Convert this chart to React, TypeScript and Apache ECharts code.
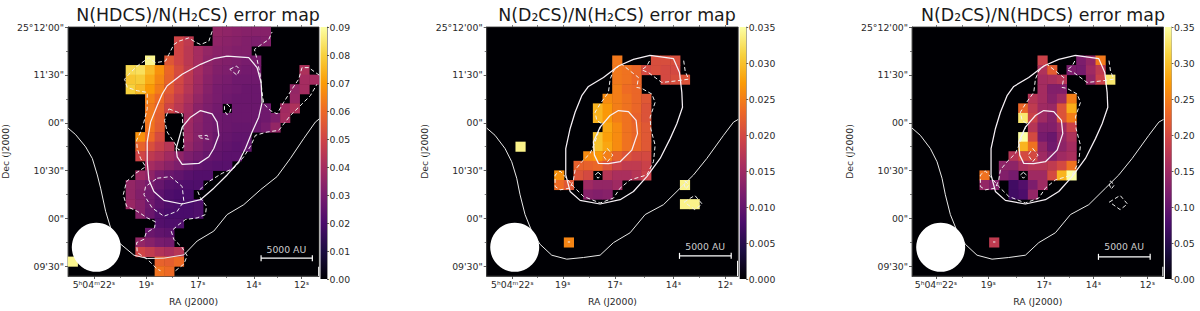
import React, { useEffect, useRef } from "react";
import * as echarts from "echarts";

type Pt = [number, number];

// Colour scale (inferno)
const infernoStops = ["#000004", "#1b0c41", "#4a0c6b", "#781c6d", "#a52c60", "#cf4446", "#ed6925", "#fb9b06", "#f7d13d", "#fcffa4"];

// Each row: [row, firstColumn, ...values]; null is an empty cell
const hdcsH2csRows: (number | null)[][] = [
  [0, 15, .036, .035, .034, .033, .033, .033],
  [1, 11, .05, .046],
  [1, 15, .035, .034, .033, .032, .031, .032],
  [2, 11, .05, .045, .04, .036, .034, .033, .032, .032],
  [3, 8, .088],
  [3, 10, .055, .05, .045, .04, .035, .033, .032, .031, .03, .03],
  [4, 6, .082, .083, .076, .068, .059, .052, .046, .04, .035, .032, .031, .03, .029, .029],
  [4, 24, .042],
  [5, 6, .078, .079, .073, .066, .058, .051, .045, .039, .034, .031, .03, .028, .028, .028],
  [5, 24, .04, .04],
  [6, 6, .08, .076, .07, .064, .056, .05, .044, .038, .033, .03, .029, .028, .027, .027],
  [6, 23, .036, .04],
  [7, 8, .065, .06, .053, .047, .042, .036, .032, .03, .028, .027, .027, .027],
  [7, 23, .037],
  [8, 8, .063, .058, .05, .045, .04, .034, .031, .029, null, .027, .027, .027, .028],
  [8, 22, .039, .042],
  [9, 8, .063, .057, null, null, .039, .034, .03, .028, .027, .027, .027, .027, .028, .031, .04],
  [10, 8, .062, .056, null, null, .038, .033, .03, .028, .027, .026, .026, .027, .03, .036],
  [11, 7, .068, .06, .052, null, null, .038, .033, .03, .027, .026, .025, .025],
  [12, 7, .058, .053, .048, .044, null, .036, .032, .029, .026, .025, .024, .025],
  [13, 7, .05, .046, .043, .039, .035, .031, .029, .026, .025, .024, .024],
  [14, 8, .04, .037, .034, .031, .028, .025, .024, .023, .023],
  [15, 7, .038, .035, .03, .027, .025, .023, .022, .022],
  [16, 6, .036, .033, .03, .026, .023, .022, .021, .021],
  [17, 6, .036, .032, .028, .024, .021, .02, .02],
  [18, 6, .037, .033, .028, .024, .021, .02, .02, .021],
  [19, 7, .033, .027, .022, .02, .02, .02, .021],
  [20, 9, .022, .021, .021],
  [21, 8, .027, .025, .024],
  [22, 7, .036, .033, .03, .029],
  [23, 7, .05, .047, .043, .041, .044],
  [24, 0, .088],
  [24, 9, .058, .057, .06],
  [25, 9, .062, .06],
];

const d2csH2csRows: (number | null)[][] = [
  [3, 13, .0245],
  [3, 17, .0205, .0205, .0205],
  [4, 13, .0245, .024, .023],
  [4, 16, .02, .0205, .02, .02],
  [5, 13, .0245, .024, .023],
  [5, 18, .02, .0205, .021],
  [6, 13, .025, .0235, .023],
  [7, 12, .026, .025, .024, .023, .0215],
  [8, 11, .029, .027, .025, .024, .023, .021],
  [9, 11, .029, .027, .025, .024, .0225, .021],
  [10, 12, .028, .026, .024, .023, .0215],
  [11, 11, .03, .0275, .026, .024, .023, .0215],
  [12, 3, .034],
  [12, 11, .03, .028, .026, .024, .023, .0215],
  [13, 10, .026, .027, .025, .0225, .021, .02, .02],
  [14, 9, .0225, .0225, .023, .021, .019, .018, .018, .019],
  [15, 7, .0265],
  [15, 9, .021, .02, null, .017, .016, .016, .017, .019],
  [16, 7, .0235, .0215],
  [16, 10, .015, .014, .014, .015],
  [16, 20, .034],
  [17, 10, .013, .0125, .013],
  [18, 20, .034, .034],
  [22, 8, .0255],
];

const d2csHdcsRows: (number | null)[][] = [
  [3, 13, .19],
  [3, 17, .12, .14, .245],
  [4, 13, .165, .22],
  [4, 16, .12, .115, .15, .18],
  [5, 13, .155, .16, .17],
  [5, 18, .14, .19, .33],
  [6, 13, .155, .125, .125],
  [7, 12, .17, .155, .13, .15, .25],
  [8, 11, .23, .18, .15, .145, .21, .285],
  [9, 11, .33, .19, .15, .13, .21, .25],
  [10, 12, .17, .125, .125, .15, .19],
  [11, 11, .35, .2, .115, .105, .14, .165],
  [12, 11, .29, .24, .14, .11, .135, .155],
  [13, 10, .17, .2, .2, .15, .13, .15, .16],
  [14, 9, .135, .135, .16, .17, .17, .18, .2, .24],
  [15, 7, .24],
  [15, 9, .125, .115, null, .15, .15, .2, .29, .35],
  [16, 7, .14, .125],
  [16, 10, .07, .085, .12, .15],
  [17, 10, .07, .08, .14],
  [22, 8, .18],
];

// Contours of panel 1, in the axis units of that panel
const p1Solid: Pt[][] = [
  [[202,388],[225,408],[255,445],[275,480],[290,530],[300,570],[315,640],[330,690],[355,735],[400,773],[440,783],[490,782],[550,772],[590,730],[640,700],[680,650],[730,620],[780,575],[830,535],[870,480],[910,420],[945,370],[957,360]],
  [[680,170],[745,175],[770,205],[782,250],[785,310],[775,355],[755,400],[735,450],[715,490],[680,530],[640,570],[600,605],[545,618],[490,607],[460,580],[445,545],[440,490],[440,430],[450,370],[470,320],[485,285],[500,260],[545,225],[600,195],[640,178],[680,170]],
  [[600,335],[635,345],[650,370],[655,410],[640,450],[625,475],[595,495],[545,498],[530,475],[527,450],[545,385],[570,355],[600,335]],
];
const p1Dashed: Pt[][] = [
  [[635,95],[625,125],[600,135],[585,128],[565,115],[535,125],[520,135],[505,165],[495,185],[465,190],[445,175],[410,200],[385,225],[372,240],[380,265],[410,275],[440,280],[440,330],[430,370],[420,400],[408,425],[410,450],[420,480],[435,505],[405,525],[378,550],[368,590],[378,625],[410,640],[440,660],[465,672],[462,690],[437,705],[430,725],[408,735],[410,765],[440,785],[470,815],[480,820]],
  [[525,820],[550,800],[560,775],[545,750],[520,725],[512,700],[535,680],[555,665],[590,660],[615,650],[618,625],[600,600],[592,580],[625,550],[665,525],[700,510],[730,475],[752,440],[765,410],[800,400],[835,395],[870,350],[930,290],[950,255]],
  [[957,228],[925,205],[905,205],[895,240],[875,270],[850,310],[830,345],[810,335],[790,315],[785,280],[780,230],[770,180],[762,150],[790,130],[805,120],[815,97]],
  [[688,210],[708,200],[718,210],[710,228],[688,210]],
  [[680,315],[692,328],[688,340],[680,348],[672,335],[672,322],[680,315]],
  [[505,330],[545,345],[548,400],[550,445],[535,455],[520,430],[500,400],[492,365],[505,330]],
  [[593,412],[620,410],[625,422],[600,418],[593,412]],
  [[470,540],[510,535],[545,565],[550,610],[530,640],[490,655],[455,630],[430,590],[435,565],[470,540]],
];

// Contours shared by panels 2 and 3
const d2csSolid: Pt[][] = [
  [[260,388],[285,410],[315,450],[335,490],[350,540],[360,590],[375,650],[395,700],[420,740],[455,773],[500,785],[550,780],[600,773],[640,735],[690,705],[735,650],[790,620],[840,570],[880,530],[920,480],[970,410],[1000,370],[1014,362]],
  [[750,168],[820,178],[838,220],[845,280],[847,325],[830,375],[810,420],[780,480],[740,535],[700,580],[660,605],[600,618],[540,607],[510,580],[497,530],[497,450],[510,390],[525,340],[545,290],[565,262],[610,235],[655,200],[700,180],[750,168]],
  [[655,335],[685,338],[708,365],[712,405],[695,455],[660,490],[625,496],[595,495],[583,470],[580,430],[600,385],[630,350],[655,335]],
];
const d2csDashed: Pt[][] = [
  [[660,197],[640,215],[630,240],[625,280],[600,315],[585,340],[590,365],[605,375],[595,400],[585,430],[570,465],[545,490],[525,515],[520,545],[510,570],[480,575],[465,565],[465,530],[480,518],[495,535],[520,565],[550,595],[600,615],[640,600],[660,570],[690,545],[740,530],[760,490],[765,440],[752,390],[750,355],[765,310],[755,285],[725,268],[710,265],[715,235],[690,215],[665,195]],
  [[748,185],[740,200],[725,212],[745,220],[785,250],[830,245],[865,240],[855,215],[850,180]],
  [[622,450],[638,470],[622,490],[608,470],[622,450]],
  [[594,522],[603,530],[594,540],[585,530],[594,522]],
  [[852,612],[884,592],[906,618],[884,635],[852,612]],
  [[854,548],[867,560],[857,573],[852,560],[854,548]],
  [[503,733],[510,733]],
];

const decTicks = [82, 227, 372, 517, 662, 807];
const decLabels = ["25°12'00\"", "11'30\"", "00\"", "10'30\"", "00\"", "09'30\""];
const decMinor = [154.5, 299.5, 444.5, 589.5, 734.5];
const raLabels = ["5ʰ04ᵐ22ˢ", "19ˢ", "17ˢ", "14ˢ", "12ˢ"];
const p1RaTicks = [280, 437, 592, 760, 904];
const p2RaTicks = [337, 488, 644, 820, 975];
const p3RaTicks = [332, 489, 656, 804, 966];
const p1RaMinor = [358, 514, 676, 832];
const p2RaMinor = [412, 566, 732, 897];
const p3RaMinor = [410, 572, 730, 885];

const CELLS = 26;
const PLOT_TOP = 27;
const PLOT_H = 252;
const PLOT_W = 251.5;
const TXT = "#2a2a2a";
const FONT = "DejaVu Sans";
const FS = 9.3;

const panels = [
  { title: "N(HDCS)/N(H₂CS) error map", left: 67.5, titleX: 193, xMin: 202, rows: hdcsH2csRows, max: 0.09, step: 0.01, dec: 2, solid: p1Solid, dashed: p1Dashed, ra: p1RaTicks, raMinor: p1RaMinor, beam: [287, 749] as Pt, bar: [782, 936, 782], barText: [858, 755] as Pt, edge: [955, 808] },
  { title: "N(D₂CS)/N(H₂CS) error map", left: 486.7, titleX: 612, xMin: 260, rows: d2csH2csRows, max: 0.035, step: 0.005, dec: 3, solid: d2csSolid, dashed: d2csDashed, ra: p2RaTicks, raMinor: p2RaMinor, beam: [344, 749] as Pt, bar: [838, 993, 775], barText: [915, 747] as Pt, edge: [1012, 790] },
  { title: "N(D₂CS)/N(HDCS) error map", left: 912, titleX: 1038, xMin: 260, rows: d2csHdcsRows, max: 0.35, step: 0.05, dec: 2, solid: d2csSolid, dashed: d2csDashed, ra: p3RaTicks, raMinor: p3RaMinor, beam: [346, 749] as Pt, bar: [819, 974, 778], barText: [896, 747] as Pt, edge: [1012, 808] },
];

function buildOption() {
  const grid: any[] = [];
  const xAxis: any[] = [];
  const yAxis: any[] = [];
  const series: any[] = [];
  const visualMap: any[] = [];
  const title: any[] = [];
  const cats = Array.from({ length: CELLS }, (_, i) => i);
  const line = { show: true, lineStyle: { color: "#333", width: 0.8 } };

  panels.forEach((p) => {
    const g = grid.length;
    grid.push({ left: p.left, top: PLOT_TOP, width: PLOT_W, height: PLOT_H, show: true, backgroundColor: "#000004", borderColor: "#333", borderWidth: 0.8 });
    const xRange = { min: p.xMin, max: p.xMin + 754 };
    const yRange = { min: 82, max: 836, inverse: true };
    const none = { show: false };

    const xCat = xAxis.length;
    xAxis.push({ gridIndex: g, type: "category", data: cats, show: false });
    const yCat = yAxis.length;
    yAxis.push({ gridIndex: g, type: "category", data: cats, inverse: true, show: false });

    const xVal = xAxis.length;
    xAxis.push({
      gridIndex: g, type: "value", position: "bottom", ...xRange, splitLine: none, axisLine: line,
      axisTick: { show: true, length: 3, customValues: p.ra, lineStyle: { color: "#333", width: 0.8 } },
      axisLabel: { show: true, customValues: p.ra, color: TXT, fontFamily: FONT, fontSize: FS, margin: 4, formatter: (v: number) => raLabels[p.ra.indexOf(v)] ?? "" },
      name: "RA (J2000)", nameLocation: "middle", nameGap: 21, nameTextStyle: { color: TXT, fontFamily: FONT, fontSize: FS },
    });
    xAxis.push({
      gridIndex: g, type: "value", position: "bottom", ...xRange, splitLine: none, axisLine: none, axisLabel: none,
      axisTick: { show: true, length: 2, customValues: p.raMinor, lineStyle: { color: "#444", width: 0.7 } },
    });
    xAxis.push({
      gridIndex: g, type: "value", position: "top", ...xRange, splitLine: none, axisLine: none, axisLabel: none,
      axisTick: { show: true, length: 2, customValues: [...p.ra, ...p.raMinor], lineStyle: { color: "#444", width: 0.7 } },
    });

    const yVal = yAxis.length;
    yAxis.push({
      gridIndex: g, type: "value", position: "left", ...yRange, splitLine: none, axisLine: line,
      axisTick: { show: true, length: 3, customValues: decTicks, lineStyle: { color: "#333", width: 0.8 } },
      axisLabel: { show: true, customValues: decTicks, color: TXT, fontFamily: FONT, fontSize: FS, margin: 4, formatter: (v: number) => decLabels[decTicks.indexOf(v)] ?? "" },
      name: "Dec (J2000)", nameLocation: "middle", nameRotate: 90, nameGap: 58, nameTextStyle: { color: TXT, fontFamily: FONT, fontSize: FS },
    });
    yAxis.push({
      gridIndex: g, type: "value", position: "left", ...yRange, splitLine: none, axisLine: none, axisLabel: none,
      axisTick: { show: true, length: 2, customValues: decMinor, lineStyle: { color: "#444", width: 0.7 } },
    });

    const cells: number[][] = [];
    p.rows.forEach((r) => {
      const [row, col, ...vals] = r as number[];
      vals.forEach((v, i) => { if (v !== null) cells.push([col + i, row, v]); });
    });
    visualMap.push({
      show: false, type: "continuous", min: 0, max: p.max, dimension: 2, seriesIndex: series.length,
      inRange: { color: infernoStops },
    });
    series.push({ type: "heatmap", xAxisIndex: xCat, yAxisIndex: yCat, data: cells, z: 1, silent: true, itemStyle: { borderWidth: 0 } });

    const common = { type: "line", xAxisIndex: xVal, yAxisIndex: yVal, showSymbol: false, symbol: "none", silent: true, z: 3 };
    p.solid.forEach((c, i) => series.push({ ...common, data: c, lineStyle: { color: i === 0 ? "#e8e8e8" : "#f6f0f6", width: i === 0 ? 1 : 1.25 } }));
    p.dashed.forEach((c) => series.push({ ...common, data: c, lineStyle: { color: "#f0f0f0", width: 1, type: [4, 2.5] } }));
    series.push({ ...common, data: [[p.edge[0], p.edge[1]], [p.edge[0], 836]], lineStyle: { color: "#fff", width: 1 } });
    series.push({
      type: "scatter", xAxisIndex: xVal, yAxisIndex: yVal, data: [p.beam], symbolSize: 49, silent: true, z: 4,
      itemStyle: { color: "#fff", opacity: 1 },
    });
    series.push({
      type: "line", xAxisIndex: xVal, yAxisIndex: yVal, data: [[p.bar[0], p.bar[2]], [p.bar[1], p.bar[2]]], silent: true, z: 4,
      lineStyle: { color: "#fff", width: 1.2 }, symbol: "rect", symbolSize: [1.2, 6], showSymbol: true, itemStyle: { color: "#fff" },
    });
    series.push({
      type: "scatter", xAxisIndex: xVal, yAxisIndex: yVal, data: [p.barText], symbolSize: 1, silent: true, z: 4,
      itemStyle: { color: "#000004" },
      label: { show: true, position: "inside", formatter: "5000 AU", color: "#fff", fontFamily: FONT, fontSize: FS },
    });

    // colour bar
    const cg = grid.length;
    grid.push({ left: p.left + PLOT_W + 1.5, top: PLOT_TOP, width: 6.5, height: PLOT_H, show: false });
    const cx = xAxis.length;
    xAxis.push({ gridIndex: cg, type: "category", data: ["scale"], show: false });
    const cy = yAxis.length;
    yAxis.push({
      gridIndex: cg, type: "value", position: "right", min: 0, max: p.max, interval: p.step, splitLine: none,
      axisLine: { show: true, lineStyle: { color: "#555", width: 0.6 } },
      axisTick: { show: true, length: 2, lineStyle: { color: "#333", width: 0.8 } },
      axisLabel: { show: true, color: TXT, fontFamily: FONT, fontSize: FS, margin: 2.5, formatter: (v: number) => v.toFixed(p.dec) },
    });
    series.push({
      type: "bar", xAxisIndex: cx, yAxisIndex: cy, data: [p.max], barWidth: "100%", silent: true,
      itemStyle: {
        color: {
          type: "linear", x: 0, y: 1, x2: 0, y2: 0,
          colorStops: infernoStops.map((c, i) => ({ offset: i / (infernoStops.length - 1), color: c })),
        },
      },
    });

    title.push({
      text: p.title, left: p.titleX, top: 1, textAlign: "center",
      textStyle: { color: "#1a1a1a", fontFamily: FONT, fontSize: 17.4, fontWeight: "normal" },
    });
  });

  return { animation: false, backgroundColor: "#ffffff", title, grid, xAxis, yAxis, visualMap, series, tooltip: { show: false } };
}

export default function App() {
  const ref = useRef<HTMLDivElement>(null);
  useEffect(() => {
    const chart = echarts.init(ref.current!, undefined, { renderer: "svg" });
    chart.setOption(buildOption() as any);
    return () => chart.dispose();
  }, []);
  return <div ref={ref} style={{ position: "absolute", left: 0, top: 0, width: 1200, height: 311 }} />;
}
